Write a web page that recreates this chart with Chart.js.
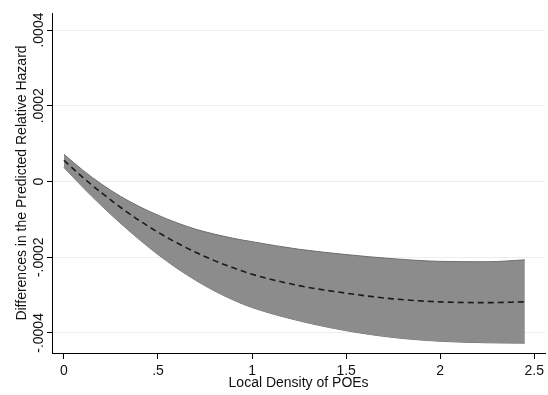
<!DOCTYPE html>
<html>
    <head>
        <script src="https://cdn.jsdelivr.net/npm/chart.js"></script>
        <style>
            body { margin: 0; background: #fff; }
        </style>
    </head>
    <body>
        <canvas id="myChart" width="548" height="395"></canvas>

        <script>
            // local density of POEs
            const density = [0, 0.1, 0.2, 0.3, 0.4, 0.5, 0.6, 0.7, 0.8, 0.9, 1.0, 1.25, 1.5, 1.75, 2.0, 2.25, 2.45];
            // predicted difference and its confidence band
            const estimate = [5.6e-5, 1.1e-5, -3.0e-5, -6.8e-5, -10.3e-5, -13.4e-5, -16.2e-5, -18.7e-5, -20.9e-5, -22.8e-5, -24.5e-5, -27.5e-5, -29.5e-5, -31.0e-5, -31.8e-5, -32.0e-5, -31.8e-5];
            const upperCI = [7.2e-5, 3.0e-5, -0.7e-5, -3.9e-5, -6.6e-5, -8.9e-5, -10.9e-5, -12.6e-5, -13.9e-5, -15.0e-5, -15.9e-5, -17.9e-5, -19.3e-5, -20.4e-5, -21.1e-5, -21.2e-5, -20.7e-5];
            const lowerCI = [3.7e-5, -1.5e-5, -6.4e-5, -11.0e-5, -15.3e-5, -19.3e-5, -22.9e-5, -26.1e-5, -28.9e-5, -31.3e-5, -33.3e-5, -36.8e-5, -39.4e-5, -41.2e-5, -42.2e-5, -42.6e-5, -42.7e-5];

            const xTicks = [0, 0.5, 1, 1.5, 2, 2.5];
            const xTickLabels = ['0', '.5', '1', '1.5', '2', '2.5'];
            const yTicks = [-0.0004, -0.0002, 0, 0.0002, 0.0004];
            const yTickLabels = ['-.0004', '-.0002', '0', '.0002', '.0004'];

            const pts = (vals) => density.map((d, i) => ({x: d, y: vals[i]}));
            const FONT = 'Arial, "Liberation Sans", sans-serif';

            // y tick labels are vertical in the original, draw them by hand
            const rotatedYLabels = {
                id: 'rotatedYLabels',
                afterDraw(chart) {
                    const ctx = chart.ctx;
                    const y = chart.scales.y;
                    ctx.save();
                    ctx.font = '14px ' + FONT;
                    ctx.fillStyle = '#111';
                    ctx.textAlign = 'center';
                    ctx.textBaseline = 'middle';
                    yTicks.forEach((v, i) => {
                        ctx.save();
                        ctx.translate(39, y.getPixelForValue(v));
                        ctx.rotate(-Math.PI / 2);
                        ctx.fillText(yTickLabels[i], 0, 0);
                        ctx.restore();
                    });
                    ctx.restore();
                }
            };

            const ctx = document.getElementById('myChart').getContext('2d');
            const myChart = new Chart(ctx, {
                type: 'line',
                data: {
                    datasets: [
                        {
                            label: 'estimate',
                            data: pts(estimate),
                            borderColor: '#1a1a1a',
                            borderWidth: 1.6,
                            borderDash: [6, 4],
                            pointRadius: 0,
                            fill: false,
                            cubicInterpolationMode: 'monotone'
                        }, {
                            label: 'upper',
                            data: pts(upperCI),
                            borderColor: '#6e6e6e',
                            borderWidth: 1,
                            pointRadius: 0,
                            backgroundColor: '#8c8c8c',
                            fill: '+1',
                            cubicInterpolationMode: 'monotone'
                        }, {
                            label: 'lower',
                            data: pts(lowerCI),
                            borderColor: '#6e6e6e',
                            borderWidth: 1,
                            pointRadius: 0,
                            fill: false,
                            cubicInterpolationMode: 'monotone'
                        }
                    ]
                },
                options: {
                    responsive: false,
                    animation: false,
                    layout: { padding: { top: 13, right: 0, left: 0, bottom: 0 } },
                    plugins: {
                        legend: { display: false },
                        tooltip: { enabled: false }
                    },
                    scales: {
                        x: {
                            type: 'linear',
                            min: -0.0633,
                            max: 2.558,
                            afterBuildTicks: (scale) => {
                                scale.ticks = xTicks.map(v => ({value: v}));
                            },
                            afterFit: (scale) => { scale.height = 42; },
                            ticks: {
                                autoSkip: false,
                                maxRotation: 0,
                                padding: 4,
                                color: '#111',
                                font: { family: FONT, size: 14 },
                                callback: (v) => xTickLabels[xTicks.indexOf(v)]
                            },
                            grid: {
                                drawOnChartArea: false,
                                tickColor: '#000',
                                tickLength: 6
                            },
                            border: { color: '#000', width: 1 },
                            title: {
                                display: true,
                                text: 'Local Density of POEs',
                                color: '#111',
                                font: { family: FONT, size: 14 },
                                padding: { top: 0, bottom: 3 }
                            }
                        },
                        y: {
                            type: 'linear',
                            min: -0.000453,
                            max: 0.000445,
                            afterBuildTicks: (scale) => {
                                scale.ticks = yTicks.map(v => ({value: v}));
                            },
                            afterFit: (scale) => { scale.width = 52; },
                            ticks: { display: false },
                            grid: {
                                color: '#e6eff1',
                                lineWidth: 1,
                                tickColor: '#000',
                                tickLength: 5
                            },
                            border: { color: '#000', width: 1 },
                            title: {
                                display: true,
                                text: 'Differences in the Predicted Relative Hazard',
                                color: '#111',
                                font: { family: FONT, size: 14 },
                                padding: { top: 14, bottom: 0 }
                            }
                        }
                    }
                },
                plugins: [rotatedYLabels]
            });
        </script>
    </body>
</html>
